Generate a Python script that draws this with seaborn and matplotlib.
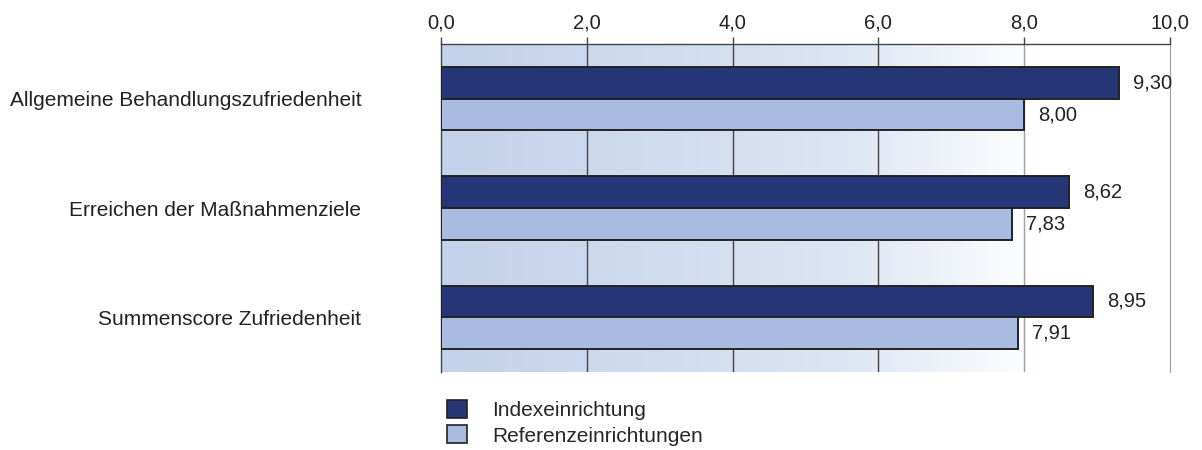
import numpy as np
import pandas as pd
import matplotlib
matplotlib.use("Agg")
import matplotlib.pyplot as plt
import seaborn as sns
from matplotlib.colors import LinearSegmentedColormap
from matplotlib.patches import Patch

# ---------------------------------------------------------------
# Daten
# ---------------------------------------------------------------
categories = ["Allgemeine Behandlungszufriedenheit",
              "Erreichen der Maßnahmenziele",
              "Summenscore Zufriedenheit"]
series = ["Indexeinrichtung", "Referenzeinrichtungen"]
index_values = [9.30, 8.62, 8.95]
reference_values = [8.00, 7.83, 7.91]
x_ticks = [0, 2, 4, 6, 8, 10]

colors = {"Indexeinrichtung": "#263576", "Referenzeinrichtungen": "#a9bbe1"}

df = pd.DataFrame({
    "kategorie": categories * 2,
    "wert": index_values + reference_values,
    "serie": [series[0]] * 3 + [series[1]] * 3,
})

# ---------------------------------------------------------------
# Plot
# ---------------------------------------------------------------
sns.set_style("white")
plt.rcParams["font.family"] = ["Liberation Sans", "DejaVu Sans"]
FS = 14.5

fig = plt.figure(figsize=(12.02, 4.5), dpi=100)
ax = fig.add_axes([441 / 1202, 1 - 372 / 450, (1170 - 441) / 1202, (372 - 44) / 450])

# Hintergrund-Verlauf (hellblau -> weiss)
cmap = LinearSegmentedColormap.from_list(
    "bg", [(0.0, "#c3d1ea"), (0.55, "#dce5f3"), (0.82, "#ffffff"), (1.0, "#ffffff")])
grad = np.linspace(0, 1, 256).reshape(1, -1)
ax.imshow(grad, cmap=cmap, aspect="auto", extent=[0, 10, 2.5, -0.5], zorder=0)

sns.barplot(data=df, y="kategorie", x="wert", hue="serie", orient="h",
            palette=colors, width=0.58, edgecolor="#222222", linewidth=1.4,
            saturation=1, legend=False, ax=ax, zorder=3)

for c in ax.containers:
    ax.bar_label(c, labels=[f"{v:.2f}".replace(".", ",") for v in c.datavalues],
                 padding=10, fontsize=FS, color="#222222")

# Gitterlinien
for t in x_ticks[1:-1]:
    ax.axvline(t, color="#444444" if t < 8 else "#a0a0a0", linewidth=1, zorder=1)

ax.set_xlim(0, 10)
ax.set_ylim(2.5, -0.5)
ax.set_xticks(x_ticks)
ax.set_xticklabels([f"{t:.1f}".replace(".", ",") for t in x_ticks])
ax.xaxis.tick_top()
ax.tick_params(axis="x", top=True, bottom=False, length=5, width=1, color="#444444",
               labelsize=FS, labelcolor="#222222", pad=3)
ax.tick_params(axis="y", left=False, pad=54, labelsize=FS + 0.5, labelcolor="#222222")
ax.set_xlabel("")
ax.set_ylabel("")

for side in ["top", "left"]:
    ax.spines[side].set_color("#444444")
    ax.spines[side].set_linewidth(1)
ax.spines["right"].set_color("#a0a0a0")
ax.spines["bottom"].set_visible(False)

# Legende
handles = [Patch(facecolor=colors[s], edgecolor="#222222", linewidth=1.2) for s in series]
fig.legend(handles, series, loc="upper left", bbox_to_anchor=(447 / 1202, 1 - 400 / 450),
           frameon=False, fontsize=FS + 0.5, handlelength=0.95, handleheight=0.95,
           handletextpad=1.2, labelspacing=0.25, borderpad=0, borderaxespad=0)

fig.savefig("out.png", dpi=100)
